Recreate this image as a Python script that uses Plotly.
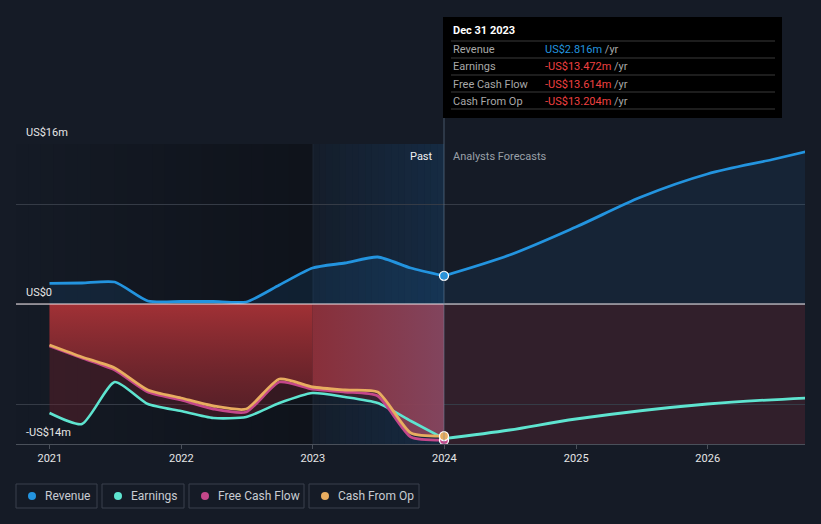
import plotly.graph_objects as go
import pandas as pd

# ---------------- data ----------------
past_dates = ["2020-12-31", "2021-03-31", "2021-06-30", "2021-09-30", "2021-12-31",
              "2022-03-31", "2022-06-30", "2022-09-30", "2022-12-31", "2023-03-31",
              "2023-06-30", "2023-09-30", "2023-12-31"]
revenue_past = [2.07, 2.1, 2.2, 0.3, 0.25, 0.25, 0.2, 1.9, 3.6, 4.1, 4.7, 3.6, 2.816]
earnings_past = [-10.9, -12.0, -7.8, -10.0, -10.7, -11.4, -11.3, -9.9, -8.9, -9.3, -9.9, -11.7, -13.472]
fcf_past = [-4.2, -5.4, -6.6, -8.8, -9.6, -10.5, -10.8, -7.8, -8.5, -8.8, -9.2, -13.3, -13.614]
cfo_past = [-4.1, -5.3, -6.4, -8.6, -9.4, -10.2, -10.5, -7.5, -8.3, -8.6, -8.8, -12.9, -13.204]

fc_dates = ["2023-12-31", "2024-06-30", "2024-12-31", "2025-06-30",
            "2025-12-31", "2026-06-30", "2026-09-30"]
revenue_fc = [2.816, 4.9, 7.7, 10.7, 13.0, 14.45, 15.23]
earnings_fc_dates = ["2023-12-31", "2024-06-30", "2024-12-31", "2025-12-31", "2026-09-30"]
earnings_fc = [-13.472, -12.6, -11.5, -10.0, -9.4]

x_ticks = ["2021-01-01", "2022-01-01", "2023-01-01", "2024-01-01", "2025-01-01", "2026-01-01"]
x_tick_text = ["2021", "2022", "2023", "2024", "2025", "2026"]
y_labels = ["US$16m", "US$0", "-US$14m"]
y_label_vals = [16, 0, -14]

legend_names = ["Revenue", "Earnings", "Free Cash Flow", "Cash From Op"]
colors = ["#2394df", "#5ee4d0", "#c4478a", "#e8ad60"]

tooltip_title = "Dec 31 2023"
tooltip_rows = ["Revenue", "Earnings", "Free Cash Flow", "Cash From Op"]
tooltip_vals = ["US$2.816m", "-US$13.472m", "-US$13.614m", "-US$13.204m"]
tooltip_val_colors = ["#2394df", "#f04040", "#f04040", "#f04040"]

# ---------------- geometry helpers ----------------
W, H = 821, 524
L, R, T, B = 16, 16, 144, 80
PW, PH = W - L - R, H - T - B
X_RANGE = ["2020-09-29", "2026-09-28"]
Y_RANGE = [-14, 16]
SPLIT = 8  # index of 2022-12-31 (start of highlighted last year)


def px(xp):
    return (xp - L) / PW


def py(yp):
    return (H - B - yp) / PH


FONT = "Roboto, Open Sans, sans-serif"
BG = "#151b26"
SPL = dict(shape="spline", smoothing=0.6)
SPL_FC = dict(shape="spline", smoothing=0.9)

fig = go.Figure()

# Earnings past (maroon fill)
fig.add_trace(go.Scatter(
    x=past_dates, y=earnings_past, mode="lines",
    line=dict(color="rgba(0,0,0,0)", width=0, **SPL),
    fill="tozeroy", fillcolor="rgba(110,32,42,0.40)", hoverinfo="skip", showlegend=False))

# Cash from op fill (red gradient), before highlighted year
fig.add_trace(go.Scatter(
    x=past_dates[:SPLIT + 1], y=cfo_past[:SPLIT + 1], mode="lines",
    line=dict(color="rgba(0,0,0,0)", width=0, **SPL),
    fill="tozeroy",
    fillgradient=dict(type="vertical", start=-14, stop=0,
                      colorscale=[[0, "rgba(85,30,38,0.55)"], [1, "rgba(176,52,56,0.88)"]]),
    hoverinfo="skip", showlegend=False))
# Cash from op fill within highlighted year (fading to pinkish)
fig.add_trace(go.Scatter(
    x=past_dates[SPLIT:], y=cfo_past[SPLIT:], mode="lines",
    line=dict(color="rgba(0,0,0,0)", width=0, **SPL),
    fill="tozeroy",
    fillgradient=dict(type="horizontal",
                      colorscale=[[0, "rgba(150,50,60,0.85)"], [1, "rgba(138,72,98,0.9)"]]),
    hoverinfo="skip", showlegend=False))

# Revenue past
fig.add_trace(go.Scatter(
    x=past_dates, y=revenue_past, mode="lines",
    line=dict(color=colors[0], width=2.8, **SPL),
    fill="tozeroy", fillcolor="rgba(33,150,243,0.10)", hoverinfo="skip", showlegend=False))

# Revenue forecast
fig.add_trace(go.Scatter(
    x=fc_dates, y=revenue_fc, mode="lines",
    line=dict(color=colors[0], width=2.8, **SPL_FC),
    fill="tozeroy", fillcolor="rgba(33,150,243,0.08)", hoverinfo="skip", showlegend=False))

# Earnings lines
fig.add_trace(go.Scatter(
    x=past_dates, y=earnings_past, mode="lines",
    line=dict(color=colors[1], width=2.6, **SPL),
    hoverinfo="skip", showlegend=False))
fig.add_trace(go.Scatter(
    x=earnings_fc_dates, y=earnings_fc, mode="lines",
    line=dict(color=colors[1], width=2.8, **SPL_FC),
    hoverinfo="skip", showlegend=False))

# FCF & CFO lines
fig.add_trace(go.Scatter(
    x=past_dates, y=fcf_past, mode="lines",
    line=dict(color=colors[2], width=2.8, **SPL),
    hoverinfo="skip", showlegend=False))
fig.add_trace(go.Scatter(
    x=past_dates, y=cfo_past, mode="lines",
    line=dict(color=colors[3], width=2.8, **SPL),
    hoverinfo="skip", showlegend=False))

# end markers
fig.add_trace(go.Scatter(
    x=[past_dates[-1]] * 3, y=[fcf_past[-1], cfo_past[-1], revenue_past[-1]], mode="markers",
    marker=dict(size=9, color=[colors[2], colors[3], colors[0]],
                line=dict(color="#ffffff", width=1.3)),
    hoverinfo="skip", showlegend=False))

shapes = []
# past-area darkening gradient (below)
edges = pd.date_range(X_RANGE[0], "2023-01-01", periods=25)
for i in range(len(edges) - 1):
    a = 0.28 * (i + 1) / (len(edges) - 1)
    shapes.append(dict(type="rect", xref="x", yref="y", x0=edges[i], x1=edges[i + 1],
                       y0=Y_RANGE[0], y1=Y_RANGE[1], fillcolor=f"rgba(0,0,0,{a:.3f})",
                       line=dict(width=0), layer="below"))
# forecast negative region
shapes.append(dict(type="rect", xref="x", yref="y", x0="2023-12-31", x1=X_RANGE[1],
                   y0=Y_RANGE[0], y1=0, fillcolor="rgba(110,40,55,0.32)",
                   line=dict(width=0), layer="below"))
# highlight band 2023-2024 (below traces)
edges2 = pd.date_range("2023-01-01", "2023-12-31", periods=21)
for i in range(len(edges2) - 1):
    a = 0.03 + 0.15 * (i + 1) / (len(edges2) - 1)
    shapes.append(dict(type="rect", xref="x", yref="y", x0=edges2[i], x1=edges2[i + 1],
                       y0=Y_RANGE[0], y1=Y_RANGE[1], fillcolor=f"rgba(25,115,195,{a:.3f})",
                       line=dict(width=0), layer="below"))
# band left edge line
shapes.append(dict(type="line", xref="x", yref="y", x0="2023-01-01", x1="2023-01-01",
                   y0=Y_RANGE[0], y1=Y_RANGE[1], line=dict(color="rgba(120,150,180,0.12)", width=1),
                   layer="below"))
# zero line
shapes.append(dict(type="line", xref="paper", yref="y", x0=0, x1=1, y0=0, y1=0,
                   line=dict(color="#f2e6ea", width=1.2), layer="above"))
# vertical divider at 2024
shapes.append(dict(type="line", xref="x", yref="paper", x0="2023-12-31", x1="2023-12-31",
                   y0=0, y1=py(118), line=dict(color="rgba(110,135,160,0.55)", width=1),
                   layer="above"))

# tooltip box
shapes.append(dict(type="rect", xref="paper", yref="paper", x0=px(443), x1=px(782),
                   y0=py(118), y1=py(17), fillcolor="#000000", line=dict(width=0), layer="above"))
for yy in [41, 58, 75, 92, 109]:
    shapes.append(dict(type="line", xref="paper", yref="paper", x0=px(451), x1=px(775),
                       y0=py(yy), y1=py(yy), line=dict(color="#3a3a3a", width=1), layer="above"))

annotations = []
annotations.append(dict(xref="paper", yref="paper", x=px(451), y=py(31), text=f"<b>{tooltip_title}</b>",
                        showarrow=False, xanchor="left", yanchor="middle",
                        font=dict(family=FONT, size=11, color="#ffffff")))
row_y = [49, 66, 84, 101]
for name, val, vc, yy in zip(tooltip_rows, tooltip_vals, tooltip_val_colors, row_y):
    annotations.append(dict(xref="paper", yref="paper", x=px(451), y=py(yy), text=name,
                            showarrow=False, xanchor="left", yanchor="middle",
                            font=dict(family=FONT, size=11, color="#a8a8a8")))
    annotations.append(dict(xref="paper", yref="paper", x=px(543), y=py(yy),
                            text=f"<span style='color:{vc}'>{val}</span> /yr",
                            showarrow=False, xanchor="left", yanchor="middle",
                            font=dict(family=FONT, size=11, color="#a8a8a8")))

# y labels
for lab, v in zip(y_labels, y_label_vals):
    ypix = (H - B) - (v - Y_RANGE[0]) / (Y_RANGE[1] - Y_RANGE[0]) * PH
    annotations.append(dict(xref="paper", yref="paper", x=px(24), y=py(ypix - 12), text=lab,
                            showarrow=False, xanchor="left", yanchor="middle",
                            font=dict(family=FONT, size=11, color="#e6e6e6")))

annotations.append(dict(xref="paper", yref="paper", x=px(435), y=py(156), text="Past",
                        showarrow=False, xanchor="right", yanchor="middle",
                        font=dict(family=FONT, size=11, color="#f0f0f0")))
annotations.append(dict(xref="paper", yref="paper", x=px(451), y=py(156), text="Analysts Forecasts",
                        showarrow=False, xanchor="left", yanchor="middle",
                        font=dict(family=FONT, size=11, color="#9aa0a8")))

# custom legend
leg_boxes = [(16, 97), (102, 184), (189, 304), (309, 419)]
for (x0, x1), name, c in zip(leg_boxes, legend_names, colors):
    shapes.append(dict(type="rect", xref="paper", yref="paper", x0=px(x0), x1=px(x1),
                       y0=py(508), y1=py(484), line=dict(color="#3a404c", width=1),
                       fillcolor="rgba(0,0,0,0)", layer="above"))
    shapes.append(dict(type="circle", xref="paper", yref="paper", x0=px(x0 + 12), x1=px(x0 + 20),
                       y0=py(500), y1=py(492), line=dict(width=0), fillcolor=c, layer="above"))
    annotations.append(dict(xref="paper", yref="paper", x=px(x0 + 27), y=py(496), text=name,
                            showarrow=False, xanchor="left", yanchor="middle",
                            font=dict(family=FONT, size=12, color="#c8ccd2")))

fig.update_layout(
    width=W, height=H,
    margin=dict(l=L, r=R, t=T, b=B, pad=0),
    paper_bgcolor=BG, plot_bgcolor=BG,
    font=dict(family=FONT, color="#e0e0e0"),
    showlegend=False,
    shapes=shapes, annotations=annotations,
    xaxis=dict(type="date", range=X_RANGE, tickvals=x_ticks, ticktext=x_tick_text,
               showgrid=False, zeroline=False, ticks="outside", ticklen=4, tickcolor="#4a505a",
               showline=True, linecolor="#4a505a", linewidth=1,
               tickfont=dict(family=FONT, size=11, color="#e6e6e6")),
    yaxis=dict(range=Y_RANGE, tickvals=[-14, -10, 0, 10, 16], showticklabels=False,
               showgrid=True, gridcolor="#353b46", gridwidth=1, zeroline=False, fixedrange=True),
)

fig.write_html("out.html")
